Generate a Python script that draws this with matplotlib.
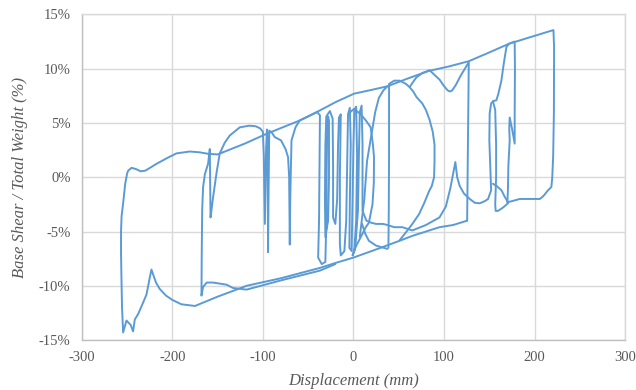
"""Base shear / total weight vs displacement hysteresis plot."""
import matplotlib

matplotlib.use("Agg")
import matplotlib.pyplot as plt  # noqa: E402
from matplotlib.ticker import FuncFormatter  # noqa: E402

LINE = "#5B9BD5"
GRID = "#D9D9D9"
TEXT = "#595959"

# outer envelope: top line, right unloading branch
outer_x = [-144, -120, -96, -59, -37, -19.5, 0.7, 20, 37.5, 60, 83.4, 105, 127.6, 150,
           171.7, 195, 220.8, 221.5, 221.3, 220.5, 219.5, 218.5, 214.8, 210, 205.8, 195,
           183.6, 175, 170]
outer_y = [2.3, 3.1, 4.0, 5.24, 6.16, 6.93, 7.7, 8.05, 8.38, 9.1, 9.8, 10.2, 10.7, 11.5,
           12.3, 12.9, 13.56, 12, 6, 2, 0, -0.9, -1.2, -1.7, -2.0, -2.0,
           -2.0, -2.2, -2.3]

# bottom envelope and the big negative excursion
left_x = [125.5, 110, 95, 80, 65, 51, 30, 0, -20, -37, -80, -118, -150, -175, -190, -200,
          -207, -213.8, -218, -221, -223, -225, -228.5, -232, -237.7, -241.4, -243.3,
          -246, -250.6, -254.3, -255.5, -256.2, -256.6, -256.6, -256, -254.3, -252,
          -250, -248.8, -245, -240, -235, -230, -225, -217.4, -205, -195.4, -180.7, -170,
          -160.5, -150, -144]
left_y = [-4.0, -4.4, -4.6, -5.0, -5.4, -5.85, -6.5, -7.4, -7.9, -8.35, -9.3, -10.0, -11.0,
          -11.86, -11.7, -11.3, -10.9, -10.3, -9.7, -9.0, -8.5, -9.3, -10.8, -11.5, -12.6,
          -13.1, -14.2, -13.6, -13.2, -14.3, -12.0, -9.0, -7.0, -5.0, -3.6, -2.4, -0.6,
          0.3, 0.6, 0.87, 0.75, 0.55, 0.6, 0.85, 1.24, 1.8, 2.2, 2.37, 2.3,
          2.16, 2.1, 2.3]

# inner negative branch, spikes near -160 / -96 / -70, then the centre cycles
inner_x = [-20, -37, -80, -118, -133, -140, -155, -162, -166, -167.8, -167.5, -167, -166,
           -164, -160.5, -158.6, -158.2, -157.8, -157, -155, -151, -147.6, -142, -136.5,
           -130, -125.5, -115, -108, -103, -100, -99, -98.2, -97.8, -97.2, -96.5, -95.5,
           -95, -94.5, -94.3, -93.8, -93, -90, -86.9, -80, -75, -72.2, -71, -70.3, -69.8,
           -68.4, -64, -59.3, -50, -40, -37, -37.5, -38, -39, -35, -31, -30, -29.5, -29,
           -28, -27, -27, -28, -31, -31.5, -31, -30, -26, -23, -22.5, -22.5, -20, -18,
           -17, -16, -14, -15, -15, -14, -10, -8, -7, -6, -4, -3, -4, -4.5, -2, -1, 0, 1,
           3, 4, 3, 1, -1, 2, 5, 6, 7, 9, 10, 10, 14.3, 20, 25, 32.7, 37.5, 45, 54, 65,
           80, 95, 102, 107, 110, 112.5, 114.5, 117.3, 122, 128.4, 134, 139.4, 145, 148.6,
           152, 151, 150, 150.4, 152, 154, 157.8, 160, 163.3, 166, 168.9, 171.7, 175, 178,
           178.3, 178, 178, 175, 172.5, 172, 172.5, 171, 170.6, 170]
inner_y = [-8.0, -8.6, -9.5, -10.35, -10.2, -9.9, -9.7, -9.7, -10.1, -10.9, -7, -3, -0.9,
           0.3, 1.24, 2.6, -1, -3.7, -3.2, -1.85, 0.5, 2.2, 3.2, 3.85,
           4.3, 4.6, 4.75, 4.7, 4.5, 4.2, 2, -2, -4.3, -1, 2.5, 4.4,
           3, -3, -6.9, -2, 4.3, 4.1, 3.7, 3.4, 2.6, 1.85, 0, -6.2, -2,
           3.4, 4.6, 5.24, 5.6, 6.0, 5.7, 1, -4, -7.4, -8.0, -7.8, -4, 1, 4.5,
           5.6, 5.2, 0, -4, -5.5, -2, 3, 5.6, 6.1, 5.4, 1, -3.7, -4.3, -2,
           3, 5.5, 5.8, 0, -6.1, -7.2, -6.8, -4, 1, 5.8, 6.4, 3, -2.3, -6.5, -6.8, -2, 3, 6.2,
           6.5, 2, -4, -6.8, -7.2, -6.5, -3, 2, 6.0, 6.6, 3, -3.1, -4.0, -4.2, -4.3, -4.3, -4.4, -4.6, -4.6, -4.9,
           -4.4, -3.7, -2.7, -1, 0.3, 1.4, 0, -0.8, -1.5, -2.0, -2.35, -2.4, -2.2, -2.0,
           -1.2, 1, 3.4, 5.9, 6.8, 7.0, 7.1, 7.7, 8.9, 10.5, 12.0, 12.3, 12.4, 12.5,
           10, 6, 3.1, 4.5, 5.5, 4.5, 3.4, 1, -1, -2.3]

# narrow loop near +155 mm
narrow_x = [154, 156.5, 157.5, 157.5, 156.5, 157, 159.6, 165, 170.6]
narrow_y = [7.0, 6.2, 3, 0, -2.5, -3.1, -3.1, -2.8, -2.4]
cross_x = [154, 158, 163.4, 167, 170.6]
cross_y = [-0.6, -0.8, -1.2, -1.8, -2.3]

# big loop between +39 and +90 mm
loop_x = [38.6, 39, 39.3, 39.3, 45, 51, 58, 62, 66, 69.5, 76, 80, 84, 87.5, 89.5, 89.5, 89,
          86.5, 83.4, 78, 72.4, 65, 57.7, 51]
loop_y = [-6.5, -3, 2, 8.6, 8.9, 8.9, 8.6, 8.3, 7.9, 7.4, 6.8, 6.2, 5.3, 4.2, 3.0, 1.5, 0,
          -0.8, -1.3, -2.4, -3.4, -4.3, -5.1, -5.8]

# unloading dip under the envelope and the drop at +127 mm
dip_x = [62, 66, 69.5, 76, 84, 95, 100, 104, 106.5, 109, 113, 118, 127.3, 127, 126.5, 126,
         125.5]
dip_y = [8.3, 8.8, 9.2, 9.6, 9.86, 9.0, 8.4, 8.0, 7.9, 8.0, 8.5, 9.3, 10.6, 8, 4, 0, -4.0]

# rounded loop around the origin
ring_x = [-5, 0.7, 8, 14, 19, 21.5, 22.7, 22.5, 21, 17, 13.6, 10, 5, 0]
ring_y = [5.9, 6.3, 5.8, 5.2, 4.6, 3, 1.85, -0.5, -2.5, -4.2, -4.6, -5.2, -6.0, -6.8]
arc_x = [9.5, 13, 17, 25, 37.5]
arc_y = [-4.3, -5.2, -5.85, -6.3, -6.6]
up_x = [7, 12, 15, 20, 24, 28, 33, 37.5]
up_y = [-5.5, -2, 1.5, 4.0, 6.0, 7.3, 8.0, 8.38]

segments = [
    (outer_x, outer_y), (left_x, left_y), (inner_x, inner_y),
    (narrow_x, narrow_y), (cross_x, cross_y), (loop_x, loop_y),
    (dip_x, dip_y), (ring_x, ring_y), (arc_x, arc_y), (up_x, up_y),
]

x_ticks = [-300, -200, -100, 0, 100, 200, 300]
y_ticks = [-15, -10, -5, 0, 5, 10, 15]

fig = plt.figure(figsize=(6.36, 3.9), dpi=100)
ax = fig.add_axes([0.1285, 0.128, 0.8545, 0.835])

for xs, ys in segments:
    ax.plot(xs, ys, color=LINE, lw=1.4, solid_joinstyle="round", solid_capstyle="round")

ax.set_xlim(-300, 300)
ax.set_ylim(-15, 15)
ax.set_xticks(x_ticks)
ax.set_yticks(y_ticks)
ax.yaxis.set_major_formatter(FuncFormatter(lambda v, _: f"{int(v)}%"))
ax.xaxis.set_major_formatter(FuncFormatter(lambda v, _: f"{int(v)}"))
ax.grid(True, color=GRID, lw=1.0)
ax.set_axisbelow(True)
for side, sp in ax.spines.items():
    sp.set_color("#BFBFBF" if side in ("left", "bottom") else GRID)
    sp.set_linewidth(1.0)
ax.tick_params(length=0, pad=8, labelsize=10.5, labelcolor=TEXT)
for lab in ax.get_xticklabels() + ax.get_yticklabels():
    lab.set_fontfamily("Liberation Serif")

ax.set_xlabel("Displacement (mm)", fontfamily="Liberation Serif", fontstyle="italic",
              fontsize=12, color=TEXT, labelpad=6)
ax.set_ylabel("Base Shear / Total Weight (%)", fontfamily="Liberation Serif",
              fontstyle="italic", fontsize=12, color=TEXT, labelpad=8)

fig.savefig("out.png", dpi=100)
